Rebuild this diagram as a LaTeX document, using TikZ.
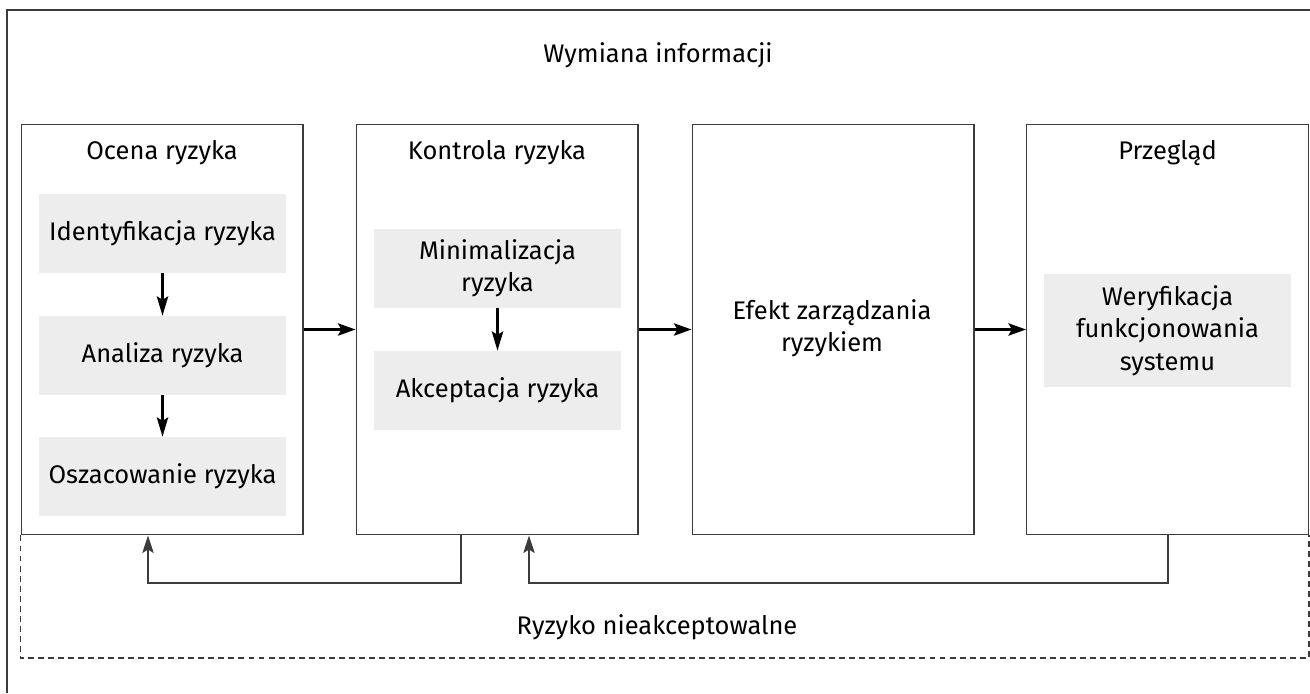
\documentclass[tikz,border=0pt]{standalone}
\usepackage{fontspec}
\setmainfont{Fira Sans}
\usetikzlibrary{arrows.meta}
\definecolor{subgray}{RGB}{236,237,236}
\definecolor{linegray}{RGB}{60,60,60}
\tikzset{
	stage/.style={draw=linegray, line width=0.6pt, minimum width=5.64cm, minimum height=8.22cm, inner sep=0pt},
	substep/.style={fill=subgray, minimum width=4.94cm, minimum height=1.58cm, inner sep=0pt, align=center},
	lbl/.style={align=center, font=\fontsize{14.5}{18.4}\selectfont},
	flow/.style={-{Stealth[length=10pt,width=7pt,inset=2pt]}, line width=1.4pt},
	down/.style={-{Stealth[length=11pt,width=6.5pt,inset=2pt]}, line width=1.2pt},
	back/.style={-{Stealth[length=10pt,width=6.5pt,inset=2pt]}, draw=linegray, line width=0.7pt}
}
\begin{document}
\begin{tikzpicture}[x=0.02cm, y=-0.02cm]
		\useasboundingbox (0,0) rectangle (1310,693);
		\draw[linegray, line width=0.6pt] (1310,10) -- (7,10) -- (7,693);

		\node[lbl] at (658,55) (title) {Wymiana informacji};

		\node[stage] at (162,329.5) (b1) {};
		\node[stage] at (497,329.5) (b2) {};
		\node[stage] at (833,329.5) (b3) {};
		\node[stage] at (1167.5,329.5) (b4) {};

		\node[lbl] at (162,153) (t1) {Ocena ryzyka};
		\node[lbl] at (497,153) (t2) {Kontrola ryzyka};
		\node[lbl] at (1167.5,153) (t4) {Przegląd};

		\node[substep] at (162.5,233.5) (s1) {};
		\node[lbl] at (s1) {Identyfikacja ryzyka};
		\node[substep] at (162.5,355.5) (s2) {};
		\node[lbl] at (s2) {Analiza ryzyka};
		\node[substep] at (162.5,476.5) (s3) {};
		\node[lbl] at (s3) {Oszacowanie ryzyka};

		\node[substep] at (497.5,268.5) (m1) {};
		\node[lbl] at (m1) {Minimalizacja\\ryzyka};
		\node[substep] at (497.5,390.5) (m2) {};
		\node[lbl] at (m2) {Akceptacja ryzyka};

		\node[lbl] at (832,328) (e) {Efekt zarządzania\\ryzykiem};

		\node[substep, minimum height=2.26cm] at (1167.5,330.5) (w) {};
		\node[lbl] at (w) {Weryfikacja\\funkcjonowania\\systemu};

		\draw[down] (s1) -- (s2);
		\draw[down] (s2) -- (s3);
		\draw[down] (m1) -- (m2);

		\draw[flow] (b1) -- (b2);
		\draw[flow] (b2) -- (b3);
		\draw[flow] (b3) -- (b4);

		% powrot przy ryzyku nieakceptowalnym
		\coordinate (k1) at (461,583);
		\coordinate (k2) at (148,583);
		\coordinate (k3) at (1168,583);
		\coordinate (k4) at (529,583);
		\draw[back] (k1 |- b2.south) -- (k1) -- (k2) -- (k2 |- b1.south);
		\draw[back] (k3 |- b4.south) -- (k3) -- (k4) -- (k4 |- b2.south);

		\coordinate (d) at (0,658);
		\draw[linegray, line width=0.6pt, dash pattern=on 3.4pt off 2.3pt] (b1.south west) -- (b1.south west |- d) -- (b4.south east |- d) -- (b4.south east);
		\node[lbl] at (657,627) (r) {Ryzyko nieakceptowalne};

	\end{tikzpicture}
\end{document}
